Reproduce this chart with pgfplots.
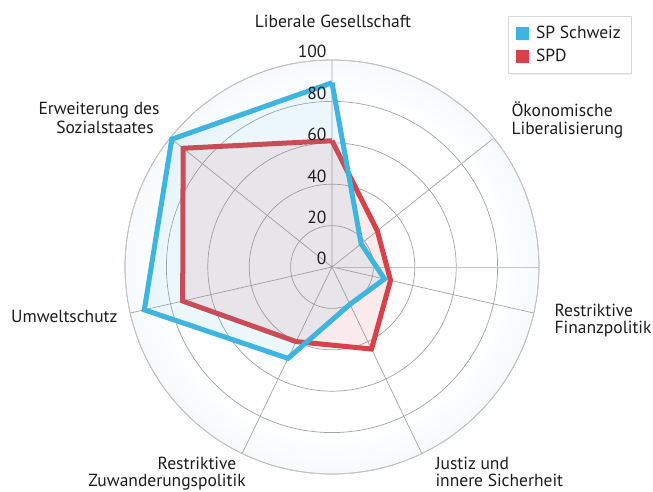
\documentclass[border=0pt]{standalone}
\usepackage{fontspec}
\setmainfont{PT Sans}
\usepackage{pgfplots}
\pgfplotsset{compat=1.18}
\usepgfplotslibrary{polar}
\usetikzlibrary{shadows}

\definecolor{spblue}{RGB}{61,181,224}
\definecolor{spdred}{RGB}{217,65,74}
\definecolor{bgedge}{RGB}{204,221,232}
\definecolor{gridgray}{RGB}{165,165,165}
\definecolor{txt}{RGB}{30,30,30}
\pgfdeclareradialshading{bgdisk}{\pgfpoint{0bp}{0bp}}{color(0bp)=(white); color(20bp)=(white); color(50bp)=(bgedge)}
\newcommand\lf{\fontsize{17.5bp}{21bp}\selectfont}

\begin{document}
\begin{tikzpicture}[x=1bp,y=1bp,font=\lf,text=txt]
\useasboundingbox (0,0) rectangle (653,492);
\shade[shading=bgdisk] (332,225) circle (207);

\begin{polaraxis}[
  at={(332bp,225bp)}, anchor=origin,
  scale only axis, width=414bp, height=414bp,
  enlargelimits=false,
  ymin=0, ymax=100, clip=false,
  xtick={90,38.5714,347.143,295.714,244.286,192.857,141.429},
  ytick={0,20,...,100},
  xticklabels={}, yticklabels={},
  major tick length=0pt,
  grid=major,
  major grid style={gridgray, line width=0.7bp},
  axis line style={gray!45, line width=0.8bp},
  legend image code/.code={\fill[#1] (0bp,-6.5bp) rectangle (13bp,6.5bp);},
  legend style={at={(axis cs:55.4,149.7)}, anchor=north west, yshift=-4bp,
    draw=gray!30, fill=white, font=\lf, text=txt,
    inner xsep=8bp, inner ysep=8bp, row sep=5bp,
    /tikz/every odd column/.append style={column sep=5bp},
    drop shadow={opacity=0.12, shadow xshift=1.5bp, shadow yshift=-1.5bp},
    cells={anchor=west}},
]
% SPD
\addplot[forget plot, draw=spdred, line width=5bp, line join=miter,
  fill=spdred, fill opacity=0.1]
  coordinates {(90,61) (38.5714,28) (347.143,29) (295.714,44)
               (244.286,40) (192.857,74) (141.429,92) (90,61)};
% SP Schweiz
\addplot[forget plot, draw=spblue, line width=5bp, line join=miter,
  fill=spblue, fill opacity=0.1]
  coordinates {(90,89) (38.5714,18) (347.143,26) (295.714,20)
               (244.286,49) (192.857,93) (141.429,99) (90,89)};

\addlegendimage{fill=spblue, draw=none}
\addlegendentry{SP Schweiz}
\addlegendimage{fill=spdred, draw=none}
\addlegendentry{SPD}

\foreach \r in {0,20,...,100}{
  \edef\tmp{\noexpand\node[anchor=base east, xshift=-2bp, yshift=2bp, font=\noexpand\lf, text=txt]
    at (axis cs:90,\r) {\r};}\tmp
}
\end{polaraxis}

\node[anchor=base] at (333,464) {Liberale Gesellschaft};
\node[anchor=base west] at (508,375) {Ökonomische};
\node[anchor=base west] at (508,357) {Liberalisierung};
\node[anchor=base west] at (551,175) {Restriktive};
\node[anchor=base west] at (551,158) {Finanzpolitik};
\node[anchor=base west] at (432,22) {Justiz und};
\node[anchor=base west] at (432,5) {innere Sicherheit};
\node[anchor=base] at (197,22) {Restriktive};
\node[anchor=base] at (167,5) {Zuwanderungspolitik};
\node[anchor=base east] at (121,169) {Umweltschutz};
\node[anchor=base] at (99,377) {Erweiterung des};
\node[anchor=base] at (105,358) {Sozialstaates};
\end{tikzpicture}
\end{document}
